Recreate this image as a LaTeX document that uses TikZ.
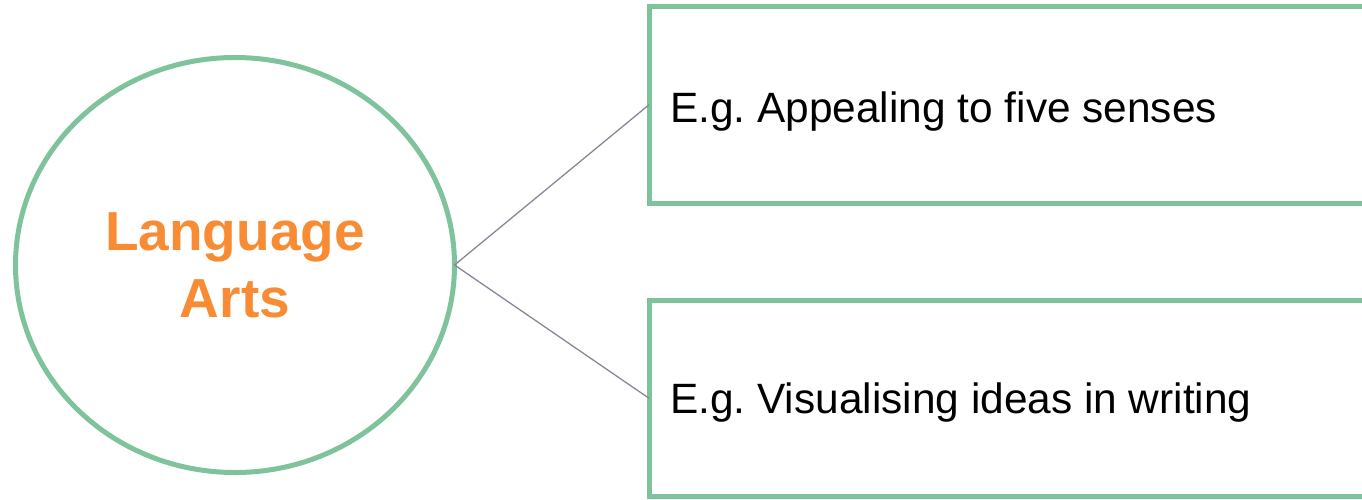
\documentclass[tikz,border=0pt]{standalone}
\usepackage{fontspec}
\setmainfont{Liberation Sans}
\frenchspacing
\usetikzlibrary{shapes.geometric}
\definecolor{boxgreen}{HTML}{7FC39C}
\definecolor{titleorange}{HTML}{F78C35}
\definecolor{linkgray}{HTML}{8C8598}
\tikzset{
  hub/.style={ellipse, draw=boxgreen, line width=5pt, inner sep=0pt, outer sep=0pt,
    minimum width=439pt, minimum height=415pt, align=center,
    text=titleorange, font=\fontsize{55}{67}\selectfont\bfseries},
  leafbox/.style={rectangle, draw=boxgreen, line width=5pt, inner sep=0pt, outer sep=0pt,
    minimum width=800pt, minimum height=196.5pt, anchor=north west},
  leaftext/.style={anchor=base west, inner sep=0pt, font=\fontsize{42.4}{50}\selectfont},
  link/.style={draw=linkgray, line width=1.3pt}
}
\begin{document}
\begin{tikzpicture}[x=1pt,y=-1pt]
\useasboundingbox (0,0) rectangle (1362,499);
\clip (0,0) rectangle (1362,499);
\node[hub] (hub) at (235,265) {Language\\Arts};
\node[leafbox] (boxA) at (649,6.5) {};
\node[leafbox] (boxB) at (649,300) {};
\node[leaftext] (textA) at (670,122) {E.g. Appealing to five senses};
\node[leaftext] (textB) at (670,413) {E.g. Visualising ideas in writing};
\draw[link] (hub.east) -- (boxA.west);
\draw[link] (hub.east) -- (boxB.west);
\end{tikzpicture}
\end{document}
